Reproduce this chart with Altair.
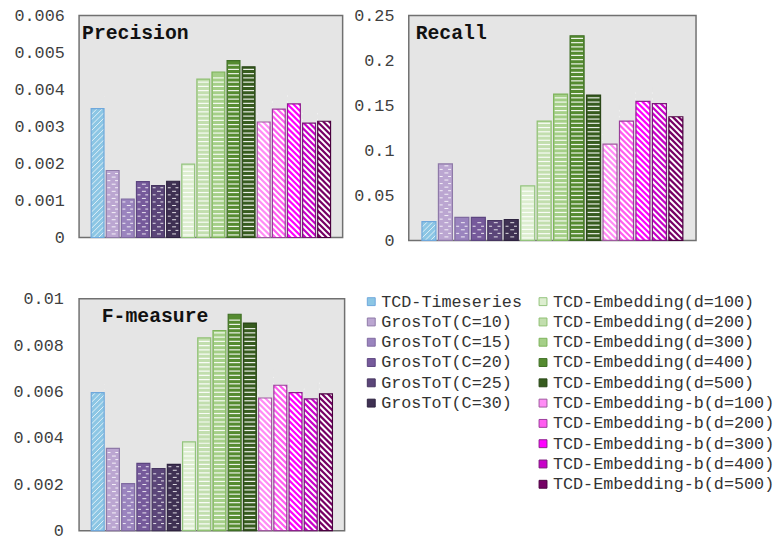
import altair as alt
import pandas as pd

labels = [
    "TCD-Timeseries",
    "GrosToT(C=10)", "GrosToT(C=15)", "GrosToT(C=20)", "GrosToT(C=25)", "GrosToT(C=30)",
    "TCD-Embedding(d=100)", "TCD-Embedding(d=200)", "TCD-Embedding(d=300)",
    "TCD-Embedding(d=400)", "TCD-Embedding(d=500)",
    "TCD-Embedding-b(d=100)", "TCD-Embedding-b(d=200)", "TCD-Embedding-b(d=300)",
    "TCD-Embedding-b(d=400)", "TCD-Embedding-b(d=500)",
]
groups = ["ts"] + ["gros"] * 5 + ["emb"] * 5 + ["embb"] * 5

precision = [0.00348, 0.00181, 0.00104, 0.00151, 0.00140, 0.00152,
             0.00198, 0.00428, 0.00447, 0.00478, 0.00461,
             0.00312, 0.00347, 0.00361, 0.00309, 0.00314]
recall = [0.021, 0.085, 0.0256, 0.0256, 0.0222, 0.0233,
          0.0607, 0.1326, 0.1626, 0.2274, 0.1615,
          0.107, 0.1326, 0.1544, 0.1519, 0.1374]
fmeasure = [0.00595, 0.00355, 0.00203, 0.00290, 0.00268, 0.00286,
            0.00383, 0.00831, 0.00863, 0.00933, 0.00895,
            0.00572, 0.00627, 0.00595, 0.00568, 0.00590]

precision_ticks = [0, 0.001, 0.002, 0.003, 0.004, 0.005, 0.006]
recall_ticks = [0, 0.05, 0.1, 0.15, 0.2, 0.25]
fmeasure_ticks = [0, 0.002, 0.004, 0.006, 0.008, 0.01]

fill_colors = ["#8CC6E4",
               "#BBA6D1", "#9A84BE", "#765A9B", "#5B4679", "#3F3153",
               "#DDEED0", "#C2DEAE", "#A5CF88", "#558B30", "#375C1F",
               "#FF8CF5", "#FF5CF0", "#FF00FF", "#C800C8", "#760065"]
stroke_colors = ["#6FA8DC",
                 "#8E79A8", "#7F6AA0", "#5C4580", "#463560", "#2E2340",
                 "#93C47D", "#8FC072", "#7DB35A", "#3F6F25", "#2A4718",
                 "#A05AA0", "#9B3D9B", "#8E1E8E", "#7A1A7A", "#4B0040"]

MONO = "Liberation Mono"
BG = "#E5E5E5"
P_IN = 0.15
P_OUT = 0.8


def panel(values, ymax, ticks, title, w, h, title_dx, label_pad=15, min_extent=None):
    df = pd.DataFrame({"name": labels, "grp": groups, "value": values})
    n = len(labels)
    step = w / (n - P_IN + 2 * P_OUT)
    bw = step * (1 - P_IN)
    px = ymax / h  # data units per pixel

    xenc = alt.X("name:N", scale=alt.Scale(domain=labels, paddingInner=P_IN, paddingOuter=P_OUT), axis=None)
    yscale = alt.Scale(domain=[0, ymax], nice=False, zero=True)
    axis_kw = dict(values=ticks, labelExpr="'' + datum.value", labelFont=MONO, labelFontSize=17,
                   labelColor="#3F3F3F", ticks=False, domain=False, grid=False,
                   labelPadding=label_pad, title=None)
    if min_extent:
        axis_kw.update(minExtent=min_extent)
    yaxis = alt.Axis(**axis_kw)

    def Y(field):
        return alt.Y(field, scale=yscale, axis=yaxis)

    base = alt.Chart(df).encode(x=xenc)

    fills = base.mark_bar(strokeWidth=0).encode(
        y=Y("value:Q"),
        color=alt.Color("name:N", scale=alt.Scale(domain=labels, range=fill_colors), legend=None),
    )

    # horizontal stripes for TCD-Embedding
    sd = 4.3 * px
    hs = (base.transform_filter("datum.grp == 'emb'")
          .transform_calculate(ys=f"sequence({sd * 0.6}, datum.value - {sd * 0.4}, {sd})")
          .transform_flatten(["ys"])
          .mark_tick(color="white", thickness=1.2, size=bw - 2, opacity=0.9)
          .encode(y=Y("ys:Q")))

    # dashed pattern for GrosToT
    gd = 3.6 * px
    gA = (base.transform_filter("datum.grp == 'gros'")
          .transform_calculate(ys=f"sequence({gd}, datum.value - {gd * 0.5}, {2 * gd})")
          .transform_flatten(["ys"]))
    gB = (base.transform_filter("datum.grp == 'gros'")
          .transform_calculate(ys=f"sequence({2 * gd}, datum.value - {gd * 0.5}, {2 * gd})")
          .transform_flatten(["ys"]))
    dashA = gA.mark_tick(color="white", thickness=1, size=4, opacity=0.85, xOffset=1).encode(y=Y("ys:Q"))
    dashB1 = gB.mark_tick(color="white", thickness=1, size=3, opacity=0.85, xOffset=-bw * 0.3).encode(y=Y("ys:Q"))
    dashB2 = gB.mark_tick(color="white", thickness=1, size=3, opacity=0.85, xOffset=bw * 0.3).encode(y=Y("ys:Q"))

    half = bw / 2 * px
    # "/" stripes for TCD-Timeseries
    td = 5.5 * px
    tsd = (base.transform_filter("datum.grp == 'ts'")
           .transform_calculate(ys=f"sequence({-half}, datum.value + {half}, {td})")
           .transform_flatten(["ys"])
           .mark_point(shape="M-1,1L1,-1", filled=False, color="white", strokeWidth=1,
                       size=bw * bw, opacity=0.75, clip=True)
           .encode(y=Y("ys:Q")))
    # "\" stripes for TCD-Embedding-b
    dd = 6 * px
    diag = (base.transform_filter("datum.grp == 'embb'")
            .transform_calculate(ys=f"sequence({-half}, datum.value + {half}, {dd})")
            .transform_flatten(["ys"])
            .mark_point(shape="M-1,-1L1,1", filled=False, color="white", strokeWidth=2,
                        size=bw * bw, opacity=1, clip=True)
            .encode(y=Y("ys:Q")))
    mask = (base.transform_filter("datum.grp == 'embb' || datum.grp == 'ts'")
            .transform_calculate(top=f"datum.value + {2 * half + 3 * px}")
            .mark_bar(color=BG, clip=True)
            .encode(y=Y("value:Q"), y2="top:Q"))

    outline = base.mark_bar(fillOpacity=0, strokeWidth=1.2).encode(
        y=Y("value:Q"),
        stroke=alt.Stroke("name:N", scale=alt.Scale(domain=labels, range=stroke_colors), legend=None),
    )

    ttl = alt.Chart(pd.DataFrame({"t": [title]})).mark_text(
        align="left", baseline="middle", font=MONO, fontSize=20, fontWeight="bold", color="#111111"
    ).encode(x=alt.value(title_dx), y=alt.value(18), text="t:N")

    return alt.layer(fills, hs, dashA, dashB1, dashB2, tsd, diag, mask, outline, ttl).properties(
        width=w, height=h)


p1 = panel(precision, 0.006, precision_ticks, "Precision", 267, 225, 3)
p2 = panel(recall, 0.25, recall_ticks, "Recall", 291, 228, 7)
p3 = panel(fmeasure, 0.01, fmeasure_ticks, "F-measure", 269, 235, 23, label_pad=16, min_extent=69)

# custom two-column legend
leg_col = [0] * 6 + [1] * 10
leg_row = list(range(6)) + list(range(10))
ldf = pd.DataFrame({"name": labels, "col": leg_col, "row": leg_row})
lx = alt.X("col:O", scale=alt.Scale(type="point", padding=0), axis=None)
ly = alt.Y("row:O", scale=alt.Scale(type="point", padding=0.146), axis=None)
sw = alt.Chart(ldf).mark_square(size=64, opacity=1, strokeWidth=1).encode(
    x=lx, y=ly,
    fill=alt.Fill("name:N", scale=alt.Scale(domain=labels, range=fill_colors), legend=None),
    stroke=alt.Stroke("name:N", scale=alt.Scale(domain=labels, range=stroke_colors), legend=None),
)
tx = alt.Chart(ldf).mark_text(align="left", baseline="middle", dx=10, font=MONO, fontSize=17,
                              color="#333333").encode(x=lx, y=ly, text="name:N")
legend = alt.layer(sw, tx).properties(width=174, height=191,
                                      view=alt.ViewBackground(stroke=None, fill=None))

row1 = alt.hconcat(p1, p2, spacing=9)
row2 = alt.hconcat(p3, legend, spacing=20)
chart = alt.concat(row1, row2, columns=1, align="none", spacing=40).properties(
    padding={"left": 2, "top": -6, "right": 0, "bottom": 0}
).configure_view(fill=BG, stroke="#707070", strokeWidth=1.5)

chart.save("out.html", embed_options={"renderer": "svg", "actions": False})
